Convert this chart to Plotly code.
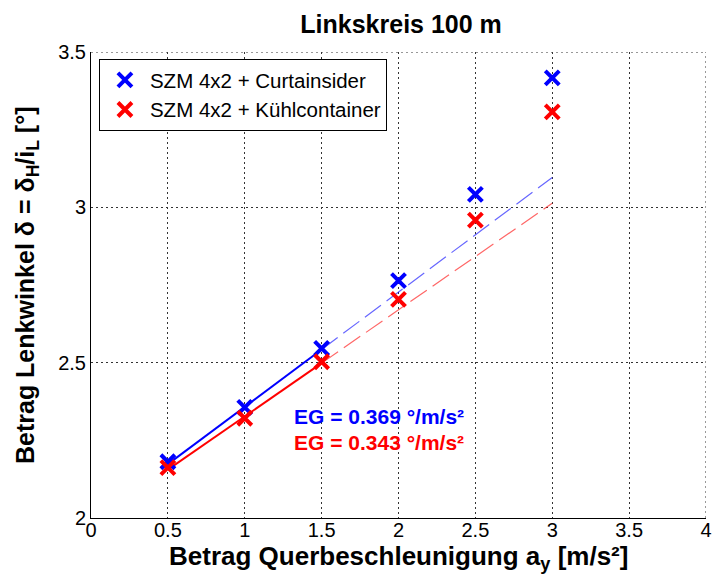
import plotly.graph_objects as go

# ---- data ----
ay = [0.5, 1.0, 1.5, 2.0, 2.5, 3.0]
curtainsider = [2.181, 2.356, 2.546, 2.764, 3.042, 3.417]
kuehlcontainer = [2.162, 2.321, 2.503, 2.704, 2.959, 3.307]

fit_x_solid = [0.5, 1.5]
fit_x_dash = [1.5, 3.0]
fit_blue_solid = [2.1735, 2.5425]
fit_blue_dash = [2.5425, 3.096]
fit_red_solid = [2.1555, 2.4985]
fit_red_dash = [2.4985, 3.013]

x_ticks = [0, 0.5, 1, 1.5, 2, 2.5, 3, 3.5, 4]
x_ticklabels = ["0", "0.5", "1", "1.5", "2", "2.5", "3", "3.5", "4"]
y_ticks = [2, 2.5, 3, 3.5]
y_ticklabels = ["2", "2.5", "3", "3.5"]

series_names = ["SZM 4x2 + Curtainsider", "SZM 4x2 + Kühlcontainer"]
eg_texts = ["EG = 0.369 °/m/s²", "EG = 0.343 °/m/s²"]

BLUE = "#0000FF"
RED = "#FF0000"
FONT = "Liberation Sans, Arial, sans-serif"

fig = go.Figure()

# fit lines
fig.add_trace(go.Scatter(x=fit_x_solid, y=fit_blue_solid, mode="lines",
                         line=dict(color=BLUE, width=2), showlegend=False, hoverinfo="skip"))
fig.add_trace(go.Scatter(x=fit_x_dash, y=fit_blue_dash, mode="lines",
                         line=dict(color="rgba(0,0,255,0.6)", width=1.2, dash="20px,7px"),
                         showlegend=False, hoverinfo="skip"))
fig.add_trace(go.Scatter(x=fit_x_solid, y=fit_red_solid, mode="lines",
                         line=dict(color=RED, width=2), showlegend=False, hoverinfo="skip"))
fig.add_trace(go.Scatter(x=fit_x_dash, y=fit_red_dash, mode="lines",
                         line=dict(color="rgba(255,0,0,0.6)", width=1.2, dash="20px,7px"),
                         showlegend=False, hoverinfo="skip"))

# markers
fig.add_trace(go.Scatter(x=ay, y=curtainsider, mode="markers", name=series_names[0],
                         marker=dict(symbol="x-thin", size=14, color=BLUE,
                                     line=dict(color=BLUE, width=4))))
fig.add_trace(go.Scatter(x=ay, y=kuehlcontainer, mode="markers", name=series_names[1],
                         marker=dict(symbol="x-thin", size=14, color=RED,
                                     line=dict(color=RED, width=4))))

fig.add_annotation(x=1.31, y=2.326, xref="x", yref="y", text="<b>" + eg_texts[0] + "</b>",
                   showarrow=False, xanchor="left", yanchor="middle",
                   font=dict(family=FONT, size=21, color=BLUE))
fig.add_annotation(x=1.31, y=2.244, xref="x", yref="y", text="<b>" + eg_texts[1] + "</b>",
                   showarrow=False, xanchor="left", yanchor="middle",
                   font=dict(family=FONT, size=21, color=RED))

# axis titles as annotations
fig.add_annotation(x=0.5, y=-0.085, xref="paper", yref="paper", yanchor="middle",
                   text="<b>Betrag Querbeschleunigung a<sub>y</sub> [m/s²]</b>",
                   showarrow=False, font=dict(family=FONT, size=26, color="black"))
fig.add_annotation(x=-0.104, y=0.5, xref="paper", yref="paper", xanchor="center",
                   text="<b>Betrag Lenkwinkel δ = δ<sub>H</sub>/i<sub>L</sub> [°]</b>",
                   textangle=-90, showarrow=False, font=dict(family=FONT, size=25, color="black"))

grid = dict(showgrid=True, gridcolor="#333333", gridwidth=1, griddash="2px,3px")

fig.update_xaxes(range=[0, 4], tickvals=x_ticks, ticktext=x_ticklabels,
                 showline=True, linecolor="black", linewidth=1, mirror=False,
                 zeroline=False, ticks="", ticklabeloverflow="allow", ticklabelstandoff=-6,
                 tickfont=dict(family=FONT, size=20, color="black"),
                 **grid)
fig.update_yaxes(range=[2, 3.5], tickvals=y_ticks, ticktext=y_ticklabels,
                 showline=True, linecolor="black", linewidth=1, mirror=False,
                 zeroline=False, ticks="", ticklabeloverflow="allow",
                 tickfont=dict(family=FONT, size=20, color="black"),
                 **grid)

# dotted border lines on top and right (grid lines at the range ends)
fig.add_shape(type="line", xref="x", yref="y", x0=4, x1=4, y0=2, y1=3.5,
              line=dict(color="#333333", width=1, dash="2px,3px"), layer="below")
fig.add_shape(type="line", xref="x", yref="y", x0=0, x1=4, y0=3.5, y1=3.5,
              line=dict(color="#333333", width=1, dash="2px,3px"), layer="below")

fig.update_layout(
    width=713, height=581,
    margin=dict(l=91, r=1, t=52, b=63),
    paper_bgcolor="white", plot_bgcolor="white",
    title=dict(text="<b>Linkskreis 100 m</b>", x=0.5625, xanchor="center",
               y=1 - 24 / 581, yanchor="middle",
               font=dict(family=FONT, size=25, color="black")),
    legend=dict(x=0.0129, y=0.985, xanchor="left", yanchor="top",
                bgcolor="white", bordercolor="black", borderwidth=1,
                font=dict(family=FONT, size=20.5, color="black"),
                itemwidth=40, tracegroupgap=0),
    showlegend=True,
)

fig.write_html("out.html")
